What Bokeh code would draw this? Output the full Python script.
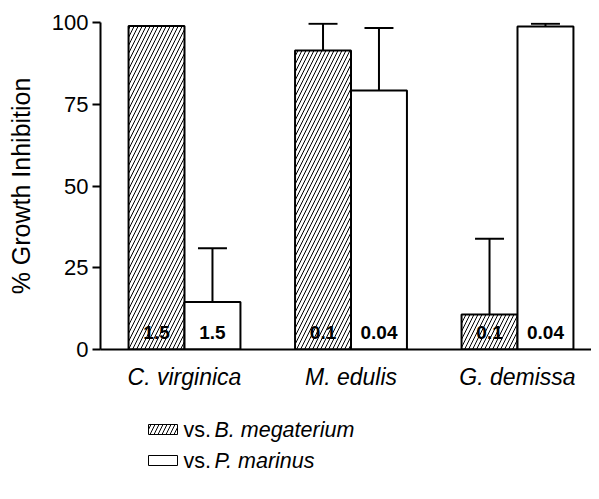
from bokeh.plotting import figure
from bokeh.models import ColumnDataSource, FixedTicker, Range1d
from bokeh.layouts import column
from bokeh.core.properties import value
from bokeh.embed import file_html
from bokeh.resources import INLINE

species = ["C. virginica", "M. edulis", "G. demissa"]
megaterium = [98.9, 91.4, 10.7]
megaterium_err = [0.0, 8.2, 23.2]
marinus = [14.5, 79.2, 98.8]
marinus_err = [16.5, 19.1, 0.8]
mega_notes = ["1.5", "0.1", "0.1"]
mari_notes = ["1.5", "0.04", "0.04"]
y_ticks = [0, 25, 50, 75, 100]
legend_series = ["B. megaterium", "P. marinus"]

FONT = "Liberation Sans"
pos = [1, 2, 3]
bw = 0.336
xm = [p - bw / 2 for p in pos]
xp = [p + bw / 2 for p in pos]

W = 591
p = figure(width=W, height=400, output_backend="svg", toolbar_location=None,
           x_range=Range1d(0.4955, 0.4955 + 491 / 166.5), y_range=Range1d(0, 100),
           min_border_left=100, min_border_right=0, min_border_top=22, min_border_bottom=51)
p.outline_line_color = None
p.xgrid.visible = False
p.ygrid.visible = False

src_m = ColumnDataSource(dict(x=xm, top=megaterium, err=[v + e for v, e in zip(megaterium, megaterium_err)], note=mega_notes))
src_p = ColumnDataSource(dict(x=xp, top=marinus, err=[v + e for v, e in zip(marinus, marinus_err)], note=mari_notes))

HATCH = dict(hatch_pattern="/", hatch_color="black", hatch_scale=8, hatch_weight=1)
p.vbar(x="x", top="top", width=bw, bottom=0, source=src_m, fill_color="white",
       line_color="black", line_width=2, **HATCH)
p.vbar(x="x", top="top", width=bw, bottom=0, source=src_p, fill_color="white",
       line_color="black", line_width=2)

cap = 0.087
for src in (src_m, src_p):
    p.segment(x0="x", y0="top", x1="x", y1="err", source=src, line_color="black", line_width=2)
    d = src.data
    p.segment(x0=[x - cap for x in d["x"]], y0=d["err"], x1=[x + cap for x in d["x"]], y1=d["err"],
              line_color="black", line_width=2)
    p.text(x="x", y=0, text="note", source=src, text_align="center", text_baseline="alphabetic",
           y_offset=-17, text_font=value(FONT), text_font_size="19px", text_font_style="bold",
           text_color="black")

p.yaxis.ticker = FixedTicker(ticks=y_ticks)
p.yaxis.axis_label = "% Growth Inhibition"
p.yaxis.axis_label_text_font = FONT
p.yaxis.axis_label_text_font_style = "normal"
p.yaxis.axis_label_text_font_size = "25px"
p.yaxis.axis_label_text_color = "black"
p.yaxis.axis_label_standoff = 14
p.yaxis.major_label_text_font = FONT
p.yaxis.major_label_text_font_size = "22px"
p.yaxis.major_label_text_color = "black"
p.yaxis.major_label_standoff = 4
p.yaxis.major_tick_out = 8
p.yaxis.major_tick_in = 0
p.yaxis.minor_tick_out = 0
p.yaxis.minor_tick_in = 0
p.yaxis.axis_line_width = 2
p.yaxis.major_tick_line_width = 2

p.xaxis.ticker = FixedTicker(ticks=pos)
p.xaxis.major_label_overrides = {1: species[0], 2: species[1], 3: species[2]}
p.xaxis.major_label_text_font = FONT
p.xaxis.major_label_text_font_style = "italic"
p.xaxis.major_label_text_font_size = "23px"
p.xaxis.major_label_text_color = "black"
p.xaxis.major_label_standoff = 14
p.xaxis.major_tick_out = 0
p.xaxis.major_tick_in = 0
p.xaxis.minor_tick_out = 0
p.xaxis.minor_tick_in = 0
p.xaxis.axis_line_width = 2

# legend panel (frame aligned with the main plot's frame: page x 100..591)
q = figure(width=W, height=91, output_backend="svg", toolbar_location=None,
           x_range=Range1d(100, W), y_range=Range1d(91, 0),
           x_axis_location=None, y_axis_location=None,
           min_border_left=100, min_border_right=0, min_border_top=0, min_border_bottom=0)
q.outline_line_color = None
q.xgrid.visible = False
q.ygrid.visible = False
rows = [29, 60]
q.quad(left=[148], right=[177], top=[rows[0] - 5], bottom=[rows[0] + 5], fill_color="white",
       line_color="black", line_width=1, **HATCH)
q.quad(left=[148], right=[177], top=[rows[1] - 5], bottom=[rows[1] + 5], fill_color="white",
       line_color="black", line_width=1)
q.text(x=[183, 183], y=rows, text=["vs.", "vs."], text_baseline="middle",
       text_font=value(FONT), text_font_size="21.5px", text_color="black")
q.text(x=[214, 214], y=rows, text=legend_series, text_baseline="middle",
       text_font=value(FONT), text_font_size="21.5px", text_font_style="italic", text_color="black")

layout = column(p, q, spacing=0)
open("out.html", "w").write(file_html(layout, INLINE))
